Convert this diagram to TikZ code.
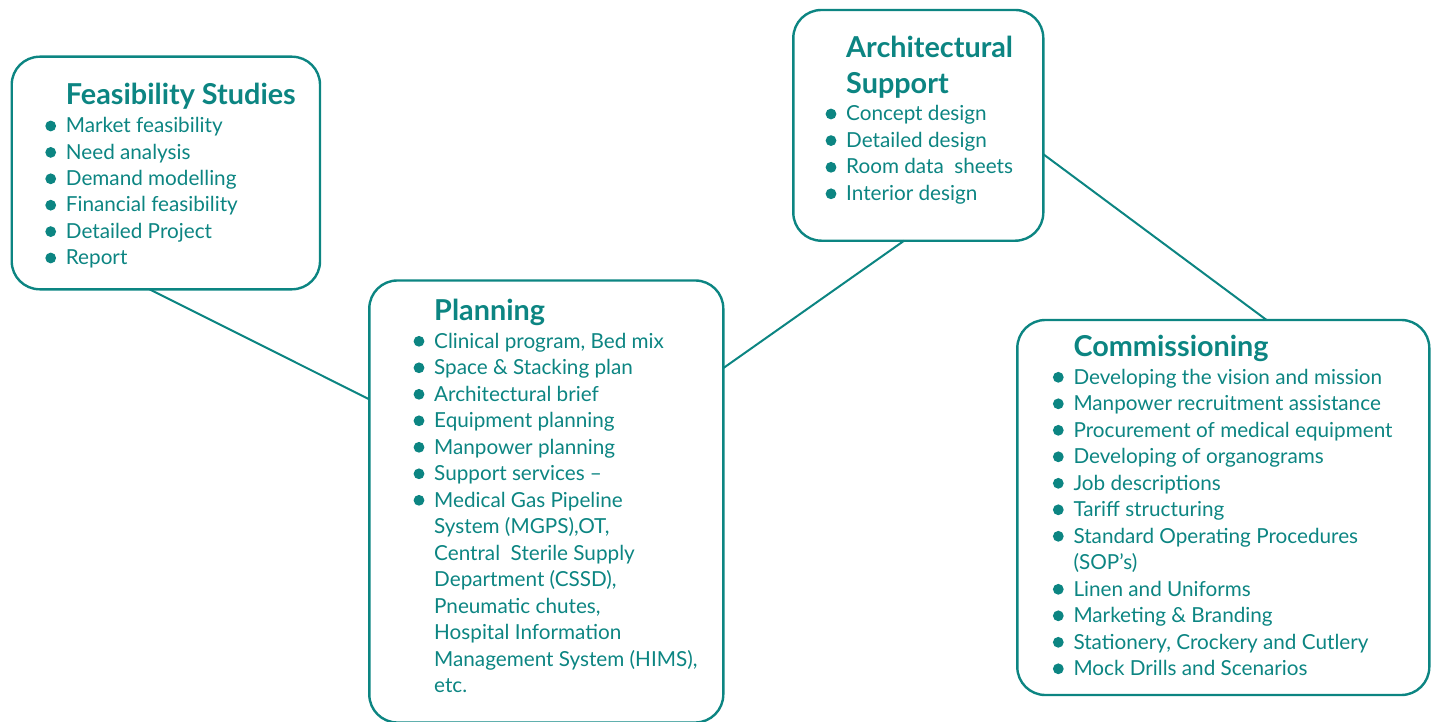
\documentclass[tikz,border=0pt]{standalone}
\usepackage{fontspec}
\setmainfont{Lato}
\usetikzlibrary{calc}
\definecolor{tl}{HTML}{0C8582}
\tikzset{
  box/.style={draw=tl, line width=2.4pt, rounded corners=28pt, shape=rectangle, outer sep=0pt, inner sep=0pt, anchor=north west},
  conn/.style={draw=tl, line width=2pt},
  ttl/.style={text=tl, font=\fontsize{28.8}{32}\selectfont\bfseries, inner sep=0pt, anchor=base west},
  itm/.style={text=tl, font=\fontsize{20.7}{25}\selectfont, inner sep=0pt, anchor=base west},
}
\newcommand{\bitem}[4]{%
  \node[itm] (#1) at (#2,#3) {#4};
  \fill[tl] ($(#1.base west)+(-15,-6.7)$) circle (5.4pt);
}
\newcommand{\citem}[4]{%
  \node[itm] (#1) at (#2,#3) {#4};
}
\begin{document}
\begin{tikzpicture}[x=1pt,y=-1pt]
\useasboundingbox (0,0) rectangle (1437,722);
% boxes
\node[box, minimum width=308.3pt, minimum height=232.6pt] (feas) at (11.7,56.7) {};
\node[box, minimum width=354pt, minimum height=442pt] (plan) at (369.3,280.5) {};
\node[box, minimum width=250pt, minimum height=230.7pt] (arch) at (793.3,10) {};
\node[box, minimum width=412pt, minimum height=375pt] (comm) at (1017.3,320) {};
% connectors
\draw[conn] (feas.262.2) -- (plan.150.2);
\draw[conn] (plan.37.2) -- (arch.263.4);
\draw[conn] (arch.347.5) -- (comm.77.5);
% Feasibility
\node[ttl] (feasT) at (65.7,105) {Feasibility Studies};
\bitem{f1}{65.7}{132.7}{Market feasibility}
\bitem{f2}{65.7}{159.1}{Need analysis}
\bitem{f3}{65.7}{185.5}{Demand modelling}
\bitem{f4}{65.7}{211.9}{Financial feasibility}
\bitem{f5}{65.7}{238.3}{Detailed Project}
\bitem{f6}{65.7}{264.7}{Report}
% Planning
\node[ttl] (planT) at (434,320.7) {Planning};
\bitem{p1}{434}{348}{Clinical program, Bed mix}
\bitem{p2}{434}{374.5}{Space \& Stacking plan}
\bitem{p3}{434}{401}{Architectural brief}
\bitem{p4}{434}{427.5}{Equipment planning}
\bitem{p5}{434}{454}{Manpower planning}
\bitem{p6}{434}{480.5}{Support services –}
\bitem{p7}{434}{507}{Medical Gas Pipeline}
\citem{p8}{434}{533.5}{System (MGPS),OT,}
\citem{p9}{434}{560}{Central\ \ Sterile Supply}
\citem{p10}{434}{586.5}{Department (CSSD),}
\citem{p11}{434}{613}{Pneumatic chutes,}
\citem{p12}{434}{639.5}{Hospital Information}
\citem{p13}{434}{666}{Management System (HIMS),}
\citem{p14}{434}{692.5}{etc.}
% Architectural
\node[ttl] (archT1) at (846,57.3) {Architectural};
\node[ttl] (archT2) at (846,94) {Support};
\bitem{a1}{846}{120.7}{Concept design}
\bitem{a2}{846}{147.3}{Detailed design}
\bitem{a3}{846}{174}{Room data\ \ sheets}
\bitem{a4}{846}{200.5}{Interior design}
% Commissioning
\node[ttl] (commT) at (1073.3,356.7) {Commissioning};
\bitem{c1}{1073.3}{384}{Developing the vision and mission}
\bitem{c2}{1073.3}{410.5}{Manpower recruitment assistance}
\bitem{c3}{1073.3}{437}{Procurement of medical equipment}
\bitem{c4}{1073.3}{463.5}{Developing of organograms}
\bitem{c5}{1073.3}{490}{Job descriptions}
\bitem{c6}{1073.3}{516.5}{Tariff structuring}
\bitem{c7}{1073.3}{543}{Standard Operating Procedures}
\citem{c8}{1073.3}{569.5}{(SOP’s)}
\bitem{c9}{1073.3}{596}{Linen and Uniforms}
\bitem{c10}{1073.3}{622.5}{Marketing \& Branding}
\bitem{c11}{1073.3}{649}{Stationery, Crockery and Cutlery}
\bitem{c12}{1073.3}{675.5}{Mock Drills and Scenarios}
\end{tikzpicture}
\end{document}
